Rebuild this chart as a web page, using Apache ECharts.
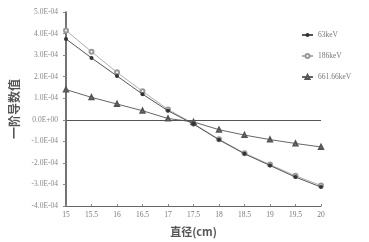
<!DOCTYPE html>
<html>
<head>
<meta charset="utf-8">
<script src="https://cdn.jsdelivr.net/npm/echarts@6/dist/echarts.min.js"></script>
<style>
  html, body { margin: 0; padding: 0; background: #fff; }
  #chart { width: 369px; height: 242px; }
</style>
</head>
<body>
<div id="chart"></div>
<script>
  // 直径 (cm)
  var diameters = [15, 15.5, 16, 16.5, 17, 17.5, 18, 18.5, 19, 19.5, 20];
  // 一阶导数值
  var kev63 = [3.75e-4, 2.87e-4, 2.03e-4, 1.19e-4, 0.42e-4, -0.20e-4, -0.93e-4, -1.58e-4, -2.12e-4, -2.66e-4, -3.12e-4];
  var kev186 = [4.14e-4, 3.16e-4, 2.20e-4, 1.32e-4, 0.48e-4, -0.18e-4, -0.90e-4, -1.55e-4, -2.08e-4, -2.60e-4, -3.05e-4];
  var kev661 = [1.40e-4, 1.04e-4, 0.73e-4, 0.42e-4, 0.06e-4, -0.10e-4, -0.46e-4, -0.71e-4, -0.92e-4, -1.10e-4, -1.26e-4];
  var seriesNames = ['63keV', '186keV', '661.66keV'];

  function pairs(ys) {
    return diameters.map(function (x, i) { return [x, ys[i]]; });
  }

  // 5.0E-04 style labels
  function sciLabel(v) {
    if (Math.abs(v) < 1e-12) return '0.0E+00';
    var e = Math.floor(Math.log10(Math.abs(v)) + 1e-9);
    var m = v / Math.pow(10, e);
    var es = (e < 0 ? '-' : '+') + (Math.abs(e) < 10 ? '0' : '') + Math.abs(e);
    return m.toFixed(1) + 'E' + es;
  }

  var myChart = echarts.init(document.getElementById('chart'));
  var serif = '"Liberation Serif", "DejaVu Serif", serif';

  var option = {
    backgroundColor: '#fff',
    animation: false,
    legend: {
      data: seriesNames,
      orient: 'vertical',
      left: 296,
      top: 26,
      itemGap: 13,
      itemWidth: 11,
      itemHeight: 5,
      textStyle: { fontFamily: serif, fontSize: 7.5, color: '#777' }
    },
    grid: { left: 63, right: 48, top: 12, bottom: 35 },
    xAxis: {
      type: 'value',
      min: 15,
      max: 20,
      interval: 0.5,
      name: '直径(cm)',
      nameLocation: 'middle',
      nameGap: 20,
      nameTextStyle: { fontFamily: '"Noto Sans CJK SC", serif', fontSize: 11, color: '#555', fontWeight: 'bold' },
      axisLine: { onZero: false, lineStyle: { color: '#666', width: 1 } },
      axisTick: { inside: true, length: 2, lineStyle: { color: '#888' } },
      axisLabel: { fontFamily: serif, fontSize: 7.5, color: '#777', margin: 5 },
      splitLine: { show: false }
    },
    yAxis: {
      type: 'value',
      min: -4e-4,
      max: 5e-4,
      interval: 1e-4,
      name: '一阶导数值',
      nameLocation: 'middle',
      nameRotate: 90,
      nameGap: 46,
      nameTextStyle: { fontFamily: '"Noto Sans CJK SC", sans-serif', fontSize: 12, color: '#555', fontWeight: 'bold' },
      axisLine: { show: true, lineStyle: { color: '#444', width: 1.5 } },
      axisTick: { show: true, length: 3, lineStyle: { color: '#888' } },
      axisLabel: { fontFamily: serif, fontSize: 7.5, color: '#888', margin: 8, formatter: sciLabel },
      splitLine: { show: false }
    },
    series: [
      {
        name: seriesNames[0],
        type: 'line',
        data: pairs(kev63),
        symbol: 'circle',
        symbolSize: 4,
        lineStyle: { color: '#555', width: 1 },
        itemStyle: { color: '#333' },
        markLine: {
          silent: true,
          symbol: 'none',
          label: { show: false },
          lineStyle: { color: '#555', width: 1, type: 'solid' },
          data: [{ yAxis: 0 }]
        },
        z: 3
      },
      {
        name: seriesNames[1],
        type: 'line',
        data: pairs(kev186),
        symbol: 'emptyCircle',
        symbolSize: 4,
        lineStyle: { color: '#b0b0b0', width: 1 },
        itemStyle: { color: '#999', borderColor: '#888', borderWidth: 1 },
        z: 2
      },
      {
        name: seriesNames[2],
        type: 'line',
        data: pairs(kev661),
        symbol: 'emptyTriangle',
        symbolSize: 4,
        lineStyle: { color: '#666', width: 1 },
        itemStyle: { color: '#555', borderColor: '#444', borderWidth: 1 },
        z: 2
      }
    ]
  };

  option && myChart.setOption(option);
</script>
</body>
</html>
